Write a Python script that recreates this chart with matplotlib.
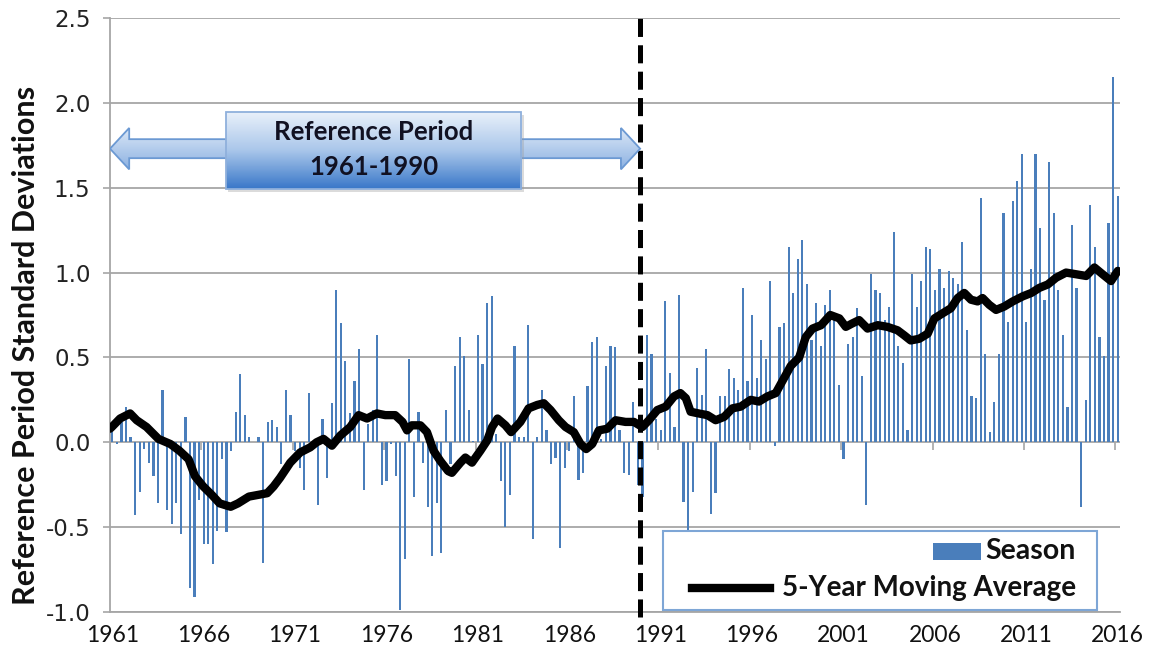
import numpy as np
import matplotlib
matplotlib.use("Agg")
import matplotlib.pyplot as plt
from matplotlib.patches import Rectangle, Polygon
from matplotlib.lines import Line2D
from matplotlib.colors import LinearSegmentedColormap

plt.rcParams['font.family'] = ['Lato', 'DejaVu Sans']
plt.rcParams['lines.scale_dashes'] = False

# ---------------- data ----------------
start_year = 1961
season_values = [
    0.06, -0.01, 0.12, 0.21, 0.03, -0.43, -0.29, -0.04, -0.12, -0.20,
    -0.36, 0.31, -0.40, -0.48, -0.36, -0.54, 0.15, -0.86, -0.91, -0.34,
    -0.60, -0.60, -0.72, -0.52, -0.10, -0.53, -0.05, 0.18, 0.40, 0.16,
    0.03, 0.00, 0.03, -0.71, 0.12, 0.13, 0.09, -0.13, 0.31, 0.16,
    -0.05, -0.15, -0.28, 0.29, -0.04, -0.37, 0.14, -0.21, 0.23, 0.90,
    0.70, 0.48, 0.17, 0.36, 0.55, -0.28, 0.11, 0.19, 0.63, -0.25,
    -0.23, -0.01, -0.20, -0.99, -0.69, 0.49, -0.32, 0.18, -0.12, -0.38,
    -0.67, -0.36, -0.65, 0.19, -0.13, 0.45, 0.62, 0.51, 0.19, 0.01,
    0.63, 0.46, 0.82, 0.86, 0.05, -0.23, -0.50, -0.31, 0.57, 0.03,
    0.03, 0.69, -0.57, 0.03, 0.31, 0.07, -0.13, -0.09, -0.62, -0.15,
    -0.05, 0.27, -0.22, -0.18, 0.33, 0.59, 0.62, 0.02, 0.45, 0.57,
    0.56, 0.07, -0.18, -0.19, 0.24, -0.25, -0.32, 0.63, 0.52, 0.14,
    0.07, 0.83, 0.41, 0.09, 0.87, -0.35, -0.56, -0.29, 0.44, 0.28,
    0.55, -0.42, -0.30, 0.27, 0.27, 0.43, 0.38, 0.31, 0.91, 0.36,
    0.75, 0.38, 0.60, 0.49, 0.95, -0.02, 0.68, 0.70, 1.15, 0.88,
    1.08, 1.19, 0.93, 0.60, 0.82, 0.57, 0.81, 0.90, 0.76, 0.34,
    -0.10, 0.58, 0.62, 0.79, 0.39, -0.37, 0.99, 0.90, 0.88, 0.72,
    0.80, 1.24, 0.57, 0.47, 0.07, 0.99, 0.80, 0.95, 1.15, 1.14,
    0.90, 1.02, 0.91, 1.01, 0.97, 0.93, 1.18, 0.66, 0.27, 0.26,
    1.44, 0.52, 0.06, 0.24, 0.52, 1.35, 0.71, 1.42, 1.54, 1.70,
    0.71, 1.02, 1.70, 1.26, 0.84, 1.65, 1.35, 0.90, 0.63, 0.21,
    1.28, 0.91, -0.38, 0.25, 1.40, 1.15, 0.62, 0.51, 1.29, 2.15, 1.45,
]

ma_years = [
    1961.0, 1961.1, 1961.55, 1962.1, 1962.46, 1963.0, 1963.65, 1964.3, 1964.8, 1965.3,
    1965.65, 1966.1, 1966.57, 1967.0, 1967.6, 1968.0, 1968.6, 1969.1, 1969.6, 1969.95,
    1970.3, 1970.86, 1971.4, 1971.95, 1972.3, 1972.68, 1973.14, 1973.6, 1974.14, 1974.6,
    1975.06, 1975.6, 1976.06, 1976.6, 1977.0, 1977.25, 1977.5, 1977.98, 1978.34, 1978.7,
    1979.07, 1979.5, 1979.7, 1980.17, 1980.44, 1980.8, 1981.26, 1981.63, 1981.9, 1982.2,
    1982.63, 1982.94, 1983.45, 1983.9, 1984.37, 1984.73, 1985.1, 1985.55, 1985.92, 1986.37,
    1986.74, 1987.05, 1987.38, 1987.74, 1988.2, 1988.66, 1989.2, 1989.66, 1990.12, 1990.48,
    1990.94, 1991.4, 1991.85, 1992.2, 1992.5, 1992.76, 1993.2, 1993.68, 1994.13, 1994.6,
    1995.05, 1995.5, 1996.05, 1996.5, 1996.96, 1997.42, 1997.78, 1998.24, 1998.7, 1999.06,
    1999.43, 1999.9, 2000.4, 2000.9, 2001.25, 2001.6, 2001.98, 2002.44, 2003.0, 2003.53,
    2004.08, 2004.45, 2004.8, 2005.27, 2005.73, 2006.1, 2006.55, 2007.0, 2007.37, 2007.73,
    2008.1, 2008.46, 2008.73, 2009.1, 2009.47, 2009.92, 2010.38, 2010.93, 2011.4, 2011.84,
    2012.3, 2012.76, 2013.3, 2013.85, 2014.4, 2014.85, 2015.3, 2015.76, 2016.13,
]
ma_values = [
    0.08, 0.09, 0.14, 0.17, 0.13, 0.09, 0.02, -0.01, -0.05, -0.10,
    -0.20, -0.26, -0.31, -0.36, -0.38, -0.36, -0.32, -0.31, -0.30, -0.26,
    -0.21, -0.12, -0.06, -0.03, 0.00, 0.02, -0.02, 0.04, 0.09, 0.16,
    0.14, 0.17, 0.16, 0.16, 0.12, 0.07, 0.10, 0.10, 0.06, -0.05,
    -0.11, -0.17, -0.18, -0.12, -0.09, -0.12, -0.05, 0.01, 0.09, 0.14,
    0.10, 0.06, 0.12, 0.20, 0.22, 0.23, 0.19, 0.13, 0.09, 0.06,
    -0.01, -0.04, -0.01, 0.07, 0.08, 0.13, 0.12, 0.12, 0.09, 0.13,
    0.19, 0.21, 0.27, 0.29, 0.26, 0.18, 0.17, 0.16, 0.13, 0.15,
    0.20, 0.21, 0.25, 0.24, 0.27, 0.29, 0.36, 0.45, 0.50, 0.62,
    0.67, 0.69, 0.75, 0.73, 0.68, 0.70, 0.72, 0.67, 0.69, 0.68,
    0.66, 0.63, 0.60, 0.61, 0.64, 0.73, 0.76, 0.79, 0.85, 0.88,
    0.84, 0.83, 0.85, 0.81, 0.78, 0.80, 0.83, 0.86, 0.88, 0.91,
    0.93, 0.97, 1.00, 0.99, 0.98, 1.03, 0.99, 0.95, 1.01,
]

tick_years = [1961, 1966, 1971, 1976, 1981, 1986, 1991, 1996, 2001, 2006, 2011, 2016]
y_ticks = [-1.0, -0.5, 0.0, 0.5, 1.0, 1.5, 2.0, 2.5]
ref_start, ref_end = 1961, 1990
ref_label = "Reference Period\n1961-1990"
y_label = "Reference Period Standard Deviations"
series_names = ["Season", "5-Year Moving Average"]

# ---------------- figure ----------------
W, H = 1151, 659
fig = plt.figure(figsize=(W / 100, H / 100), dpi=100)
ax = fig.add_axes([110 / W, (H - 612) / H, (1120 - 110) / W, (612 - 18) / H])

n = len(season_values)
xpos = start_year + (np.arange(n) + 0.5) / 4.0
bar_color = '#4a7ebb'
grid_color = '#a6a6a6'

ax.bar(xpos, season_values, width=0.12, color=bar_color, zorder=2, linewidth=0)
ax.plot(ma_years, ma_values, color='black', lw=6.0, solid_capstyle='round',
        solid_joinstyle='round', zorder=4)

ax.set_xlim(start_year, start_year + n / 4.0)
ax.set_ylim(y_ticks[0], y_ticks[-1])
ax.set_yticks(y_ticks)
ax.set_yticklabels([f'{v:.1f}' for v in y_ticks], family='DejaVu Sans',
                   fontsize=16.5, color='#222222')
ax.grid(axis='y', color=grid_color, lw=1.3, zorder=0)
ax.set_axisbelow(True)

# x labels at the first season of every 5th year
ax.set_xticks([t + 0.125 for t in tick_years])
ax.set_xticklabels([str(t) for t in tick_years],
                   family=['Liberation Sans Narrow', 'Lato', 'DejaVu Sans'],
                   fontsize=16.5, color='#111111')
ax.tick_params(axis='x', length=0, pad=9)
ax.tick_params(axis='y', length=5, width=1.2, color=grid_color, pad=9)

for s in ['top', 'right']:
    ax.spines[s].set_visible(False)
for s in ['left', 'bottom']:
    ax.spines[s].set_color(grid_color)
    ax.spines[s].set_linewidth(1.3)

# small category tick marks on the zero line
ax.vlines(tick_years, -0.045, 0, color=grid_color, lw=1.2, zorder=1)

# dashed separator at end of reference period
ax.plot([ref_end, ref_end], [y_ticks[0] - 0.03, y_ticks[-1]], color='black', lw=3.6,
        dashes=(13, 6), zorder=5, clip_on=False)

# ---------------- reference-period arrow ----------------
yc = 1.73
head_len = 1.05
shaft_h = 0.056
head_h = 0.122
arrow_pts = [
    (ref_start, yc), (ref_start + head_len, yc + head_h), (ref_start + head_len, yc + shaft_h),
    (ref_end - head_len, yc + shaft_h), (ref_end - head_len, yc + head_h), (ref_end, yc),
    (ref_end - head_len, yc - head_h), (ref_end - head_len, yc - shaft_h),
    (ref_start + head_len, yc - shaft_h), (ref_start + head_len, yc - head_h),
]
arrow = Polygon(arrow_pts, closed=True, facecolor='none', edgecolor='#6b99d3',
                lw=1.3, zorder=6)
ax.add_patch(arrow)
grad = np.linspace(0, 1, 64).reshape(-1, 1)
cm_arrow = LinearSegmentedColormap.from_list('a', ['#dce8f7', '#8db2e2'])
im = ax.imshow(grad, cmap=cm_arrow, aspect='auto', origin='upper',
               extent=(ref_start, ref_end, yc - head_h, yc + head_h), zorder=5.5)
im.set_clip_path(arrow)

bx0, bx1 = 1967.35, 1983.5
by0, by1 = 1.494, 1.947
shadow = Rectangle((bx0 + 0.12, by0 - 0.02), bx1 - bx0, by1 - by0, facecolor='#9a9a9a',
                   alpha=0.35, edgecolor='none', zorder=6.2)
ax.add_patch(shadow)
box = Rectangle((bx0, by0), bx1 - bx0, by1 - by0, facecolor='none', edgecolor='#8fb0dc',
                lw=1.3, zorder=6.6)
ax.add_patch(box)
cm_box = LinearSegmentedColormap.from_list('b', ['#e8f0fa', '#a9c6ea', '#3a78c9'])
im2 = ax.imshow(grad, cmap=cm_box, aspect='auto', origin='upper',
                extent=(bx0, bx1, by0, by1), zorder=6.5)
im2.set_clip_path(box)
ax.text((bx0 + bx1) / 2, (by0 + by1) / 2 + 0.005, ref_label, ha='center', va='center',
        fontsize=18.5, fontweight='bold', color='#111122', linespacing=1.55, zorder=7)

ax.set_xlim(start_year, start_year + n / 4.0)
ax.set_ylim(y_ticks[0], y_ticks[-1])

# ---------------- legend (manual, right aligned) ----------------
def fx(px):
    return (px - 110) / 1010.0

def fy(py):
    return (612 - py) / 594.0

leg_box = Rectangle((fx(663), fy(610)), fx(1097) - fx(663), fy(531) - fy(610),
                    transform=ax.transAxes, facecolor='white', edgecolor='#7ea6d6',
                    lw=1.5, zorder=8)
ax.add_patch(leg_box)
ax.add_patch(Rectangle((fx(933), fy(560)), fx(981) - fx(933), fy(543) - fy(560),
                       transform=ax.transAxes, facecolor=bar_color, edgecolor='none', zorder=9))
ax.add_line(Line2D([fx(692), fx(770)], [fy(588), fy(588)], transform=ax.transAxes,
                   color='black', lw=6.0, zorder=9))
ax.text(fx(1076), fy(551), series_names[0], transform=ax.transAxes, ha='right', va='center',
        fontsize=20.5, fontweight='bold', color='#111111', zorder=9)
ax.text(fx(1076), fy(588), series_names[1], transform=ax.transAxes, ha='right', va='center',
        fontsize=20, fontweight='bold', color='#111111', zorder=9)

# y label
fig.text(26 / W, 1 - 345 / H, y_label, rotation=90, ha='center', va='center',
         fontsize=22, fontweight='bold', color='#111111')

fig.savefig('out.png', dpi=100)
